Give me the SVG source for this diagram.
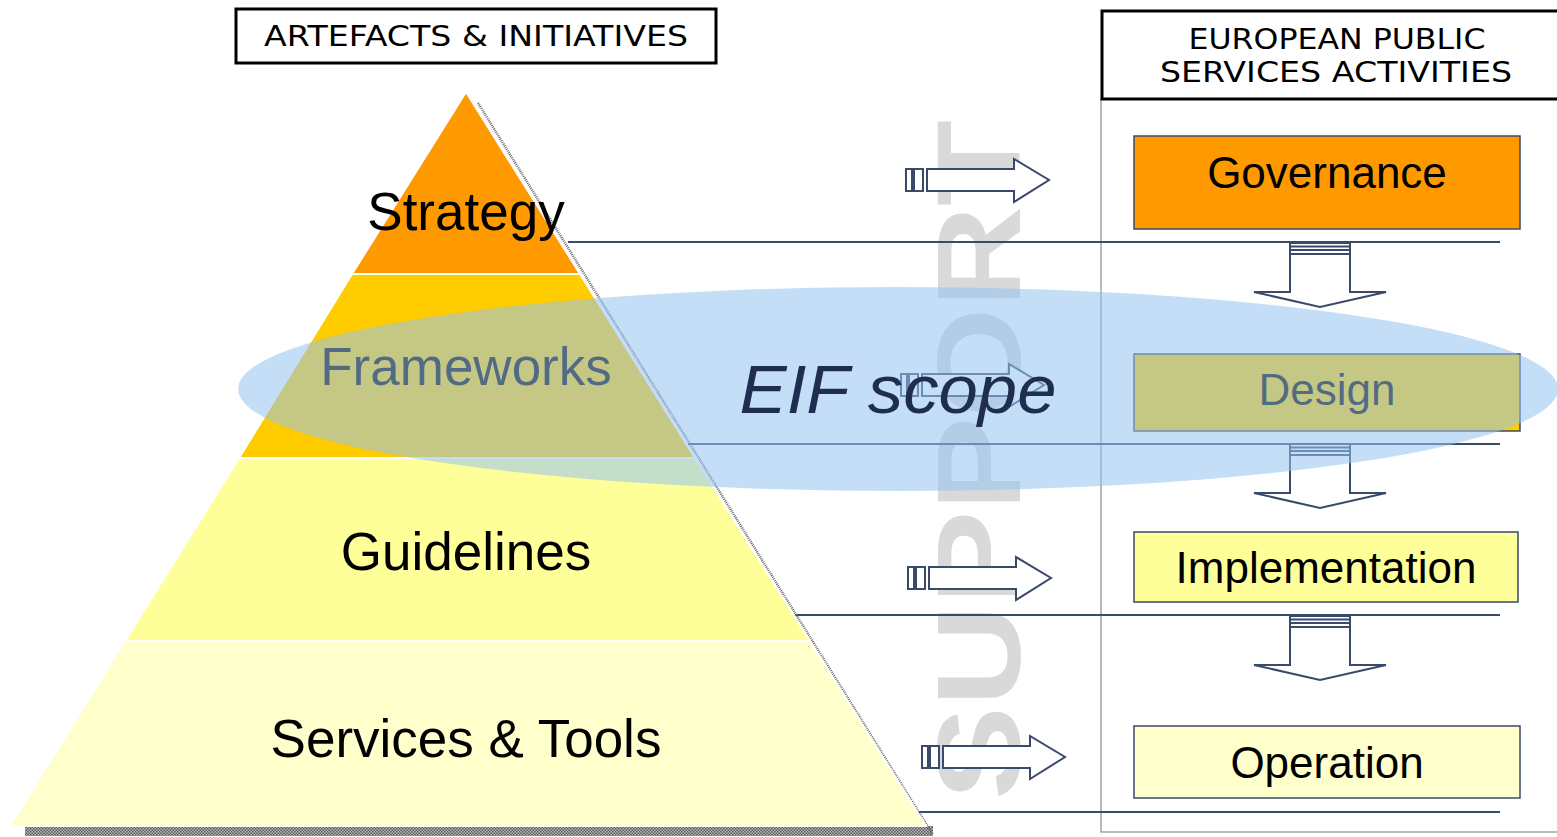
<svg xmlns="http://www.w3.org/2000/svg" width="1557" height="837" viewBox="0 0 1557 837">
<style>
.hdr{font-family:"DejaVu Sans","Liberation Sans",sans-serif;font-size:29px;fill:#000;text-anchor:middle}
.lvl{font-family:"Liberation Sans",Arial,sans-serif;font-size:53px;fill:#000;text-anchor:middle}
.act{font-family:"Liberation Sans",Arial,sans-serif;font-size:44px;fill:#000;text-anchor:middle}
.band{stroke:#fff;stroke-width:2}
.conn{stroke:#3a4a6b;stroke-width:2;fill:none}
.arr{fill:#fff;stroke:#3a4a6b;stroke-width:2}
.box{stroke:#3a4a6b;stroke-width:1.5}
</style>
<defs>
<g id="rarrow">
<rect class="arr" x="0" y="-11" width="6" height="22"/>
<rect class="arr" x="8" y="-11" width="9" height="22"/>
<path class="arr" d="M21,-11 L108,-11 L108,-21 L143,0 L108,22 L108,11 L21,11 Z"/>
</g>
<g id="darrow">
<path class="arr" d="M-30,12 L-30,50 L-66,50 L0,65 L66,50 L30,50 L30,12 Z"/>
<rect class="arr" x="-30" y="1" width="60" height="11"/>
<line class="conn" x1="-30" y1="4.5" x2="30" y2="4.5"/>
<line class="conn" x1="-30" y1="8" x2="30" y2="8"/>
</g>
<pattern id="shade" width="3" height="3" patternUnits="userSpaceOnUse">
<rect width="3" height="3" fill="#bdbdbd"/>
<rect width="1.5" height="1.5" fill="#555"/>
<rect x="1.5" y="1.5" width="1.5" height="1.5" fill="#555"/>
</pattern>
</defs>

<!-- SUPPORT watermark -->
<text transform="translate(1020,800) rotate(-90)" x="0" y="0" font-family="Liberation Sans, Arial, sans-serif" font-weight="bold" font-size="118" fill="#d9d9d9" textLength="680" lengthAdjust="spacingAndGlyphs">SUPPORT</text>

<!-- headers -->
<g id="hdr-left">
<rect x="236" y="9" width="480" height="54" fill="#fff" stroke="#000" stroke-width="3"/>
<text class="hdr" x="476" y="46" textLength="424" lengthAdjust="spacingAndGlyphs">ARTEFACTS &amp; INITIATIVES</text>
</g>
<g id="panel-right">
<rect x="1101" y="99" width="470" height="733" fill="none" stroke="#8c8c8c" stroke-width="1.2"/>
<rect x="1102" y="11" width="470" height="88" fill="#fff" stroke="#000" stroke-width="3"/>
<text class="hdr" x="1337" y="49" textLength="297" lengthAdjust="spacingAndGlyphs">EUROPEAN PUBLIC</text>
<text class="hdr" x="1336" y="82" textLength="352" lengthAdjust="spacingAndGlyphs">SERVICES ACTIVITIES</text>
</g>

<!-- connectors -->
<g id="connectors">
<line class="conn" x1="568" y1="242" x2="1500" y2="242"/>
<line class="conn" x1="688" y1="444" x2="1500" y2="444"/>
<line class="conn" x1="795" y1="615" x2="1500" y2="615"/>
<line class="conn" x1="918" y1="812" x2="1500" y2="812"/>
<use href="#rarrow" x="906" y="180"/>
<use href="#rarrow" x="901" y="385"/>
<use href="#rarrow" x="908" y="578"/>
<use href="#rarrow" x="922" y="757"/>
<use href="#darrow" x="1320" y="242"/>
<use href="#darrow" x="1320" y="443"/>
<use href="#darrow" x="1320" y="615"/>
</g>

<!-- pyramid -->
<g id="pyramid">
<rect x="25" y="826" width="908" height="10" fill="url(#shade)"/>
<line x1="478" y1="103" x2="933" y2="835" stroke="#6b6b6b" stroke-width="2.5" stroke-dasharray="1 1"/>
<g id="strategy">
<polygon class="band" points="466,92 580,274 352,274" fill="#ff9900"/>
<text class="lvl" x="466" y="230">Strategy</text>
</g>
<g id="frameworks">
<polygon class="band" points="352,274 580,274 695,458 239,458" fill="#ffcc00"/>
<text class="lvl" x="466" y="385">Frameworks</text>
</g>
<g id="guidelines">
<polygon class="band" points="239,458 695,458 810,641 125,641" fill="#ffff99"/>
<text class="lvl" x="466" y="570">Guidelines</text>
</g>
<g id="services">
<polygon class="band" points="125,641 810,641 926,826 10,826" fill="#ffffcc"/>
<text class="lvl" x="466" y="757">Services &amp; Tools</text>
</g>
</g>

<!-- activity boxes -->
<g id="governance">
<rect class="box" x="1134" y="136" width="386" height="93" fill="#ff9900"/>
<text class="act" x="1327" y="188">Governance</text>
</g>
<g id="design">
<rect class="box" x="1134" y="354" width="386" height="77" fill="#ffcc00"/>
<text class="act" x="1327" y="405">Design</text>
</g>
<g id="implementation">
<rect class="box" x="1134" y="532" width="384" height="70" fill="#ffff99"/>
<text class="act" x="1326" y="583">Implementation</text>
</g>
<g id="operation">
<rect class="box" x="1134" y="726" width="386" height="72" fill="#ffffcc"/>
<text class="act" x="1327" y="778">Operation</text>
</g>

<!-- EIF scope -->
<g id="eif-scope">
<ellipse cx="898" cy="389" rx="660" ry="102" fill="#96c3f2" fill-opacity="0.55"/>
<text x="898" y="413" text-anchor="middle" font-family="Liberation Sans, Arial, sans-serif" font-style="italic" font-size="68" fill="#1f2d50" textLength="317" lengthAdjust="spacingAndGlyphs">EIF scope</text>
</g>
</svg>
